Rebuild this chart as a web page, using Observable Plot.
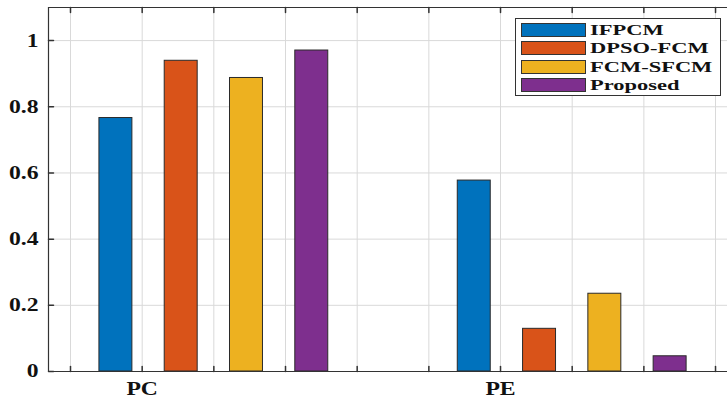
<!DOCTYPE html>
<html>
<head>
<meta charset="utf-8">
<script src="https://cdn.jsdelivr.net/npm/d3@7"></script>
<script src="https://cdn.jsdelivr.net/npm/@observablehq/plot@0.6"></script>
<style>
  body { margin: 0; background: #fff; }
  #wrap { position: relative; width: 727px; height: 399px; overflow: hidden; }
  #legend { position: absolute; left: 515px; top: 18px; width: 204px; height: 76px;
    border: 1px solid #333; background: #fff; font-family: "Liberation Serif", "Times New Roman", serif;
    font-weight: bold; font-size: 15.5px; color: #111; }
  .row { position: absolute; left: 5px; height: 14px; }
  .sw { position: absolute; left: 0; top: 0; width: 63px; height: 12px; border: 1px solid #333; }
  .lb { position: absolute; left: 69px; top: 0; line-height: 14px; white-space: nowrap;
    transform: scaleX(1.45); transform-origin: left center; }
</style>
</head>
<body>
<div id="wrap"></div>
<script>
const categories = ["PC", "PE"];
const methods = ["IFPCM", "DPSO-FCM", "FCM-SFCM", "Proposed"];
const ifpcm = [0.766, 0.577];
const dpsoFcm = [0.939, 0.129];
const fcmSfcm = [0.887, 0.235];
const proposed = [0.970, 0.046];
const colors = ["#0072BD", "#D95319", "#EDB120", "#7E2F8E"];
const yTicks = [0, 0.2, 0.4, 0.6, 0.8, 1];
const yTickLabels = ["0", "0.2", "0.4", "0.6", "0.8", "1"];
const xTicks = [0, 1, 2, 3, 4, 5, 6, 7, 8, 9];
const xTickLabels = ["", "PC", "", "", "", "", "PE", "", "", ""];

const series = [ifpcm, dpsoFcm, fcmSfcm, proposed];
const data = [];
categories.forEach((c, gi) => {
  methods.forEach((m, si) => {
    const center = 2 + 5 * gi + (si - 1.5) * 0.911;
    data.push({category: c, method: m, value: series[si][gi], x1: center - 0.23, x2: center + 0.23});
  });
});

const xmin = -0.307, xmax = 9.167;
const tickShape = {draw(ctx, l) { ctx.moveTo(0, 0); ctx.lineTo(0, -l); }};
const axisColor = "#333";

const chart = Plot.plot({
  width: 727,
  height: 399,
  marginLeft: 48,
  marginRight: 0,
  marginTop: 7,
  marginBottom: 28,
  style: {fontFamily: "'Liberation Serif', 'Times New Roman', serif", fontWeight: "bold", fontSize: "18.5px", color: "#111", background: "#fff"},
  x: {domain: [xmin, xmax], axis: null},
  y: {domain: [0, 1.1], axis: null},
  color: {domain: methods, range: colors},
  marks: [
    Plot.gridX(xTicks, {stroke: "#d9d9d9", strokeOpacity: 1}),
    Plot.gridY(yTicks, {stroke: "#d9d9d9", strokeOpacity: 1}),
    Plot.rect(data, {x1: "x1", x2: "x2", y1: 0, y2: "value", fill: "method", stroke: "#2a2a2a", strokeWidth: 1}),
    Plot.ruleY([0], {stroke: axisColor, strokeWidth: 1.2}),
    Plot.ruleY([1.1], {stroke: axisColor, strokeWidth: 1.2}),
    Plot.ruleX([xmin], {stroke: axisColor, strokeWidth: 1.2}),
    Plot.vector(yTicks, {y: d => d, frameAnchor: "left", rotate: 90, length: 5, anchor: "start", shape: tickShape, stroke: axisColor}),
    Plot.vector(xTicks, {x: d => d, frameAnchor: "bottom", rotate: 0, length: 5, anchor: "start", shape: tickShape, stroke: axisColor}),
    Plot.vector(xTicks, {x: d => d, frameAnchor: "top", rotate: 180, length: 5, anchor: "start", shape: tickShape, stroke: axisColor}),
    Plot.axisY(yTicks, {tickSize: 0, tickPadding: 10, label: null, tickFormat: (d, i) => yTickLabels[i], fontWeight: "bold", fontSize: 18.5}),
    Plot.axisX(xTicks, {tickSize: 0, tickPadding: 10, label: null, tickFormat: (d, i) => xTickLabels[i], fontWeight: "bold", fontSize: 18.5})
  ]
});

const wrap = document.getElementById("wrap");
wrap.appendChild(chart);

// horizontally stretch text to match the reference's aspect
chart.querySelectorAll("text").forEach(t => {
  const w = t.getComputedTextLength();
  if (w > 0) {
    t.setAttribute("textLength", (w * 1.28).toFixed(1));
    t.setAttribute("lengthAdjust", "spacingAndGlyphs");
  }
});

const legend = document.createElement("div");
legend.id = "legend";
methods.forEach((m, i) => {
  const row = document.createElement("div");
  row.className = "row";
  row.style.top = (4 + i * 18.4) + "px";
  const sw = document.createElement("div");
  sw.className = "sw";
  sw.style.background = colors[i];
  const lb = document.createElement("span");
  lb.className = "lb";
  lb.textContent = m;
  row.appendChild(sw);
  row.appendChild(lb);
  legend.appendChild(row);
});
wrap.appendChild(legend);
</script>
</body>
</html>
